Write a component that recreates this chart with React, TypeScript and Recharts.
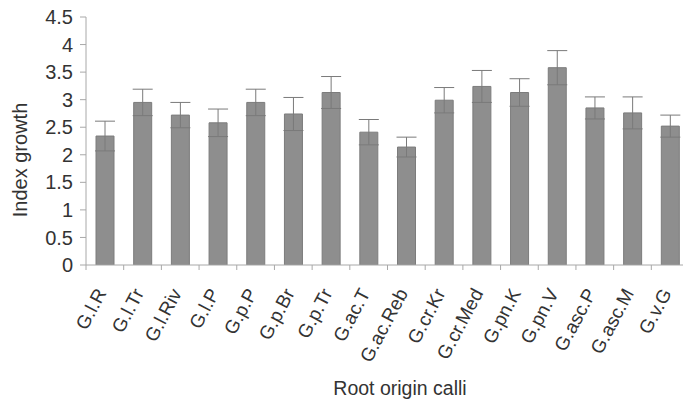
import React from 'react';
import { BarChart, Bar, XAxis, YAxis, ErrorBar, Label } from 'recharts';

const categories = ['G.l.R', 'G.l.Tr', 'G.l.Riv', 'G.l.P', 'G.p.P', 'G.p.Br', 'G.p.Tr', 'G.ac.T', 'G.ac.Reb', 'G.cr.Kr', 'G.cr.Med', 'G.pn.K', 'G.pn.V', 'G.asc.P', 'G.asc.M', 'G.v.G'];
const growthValues = [2.34, 2.95, 2.72, 2.58, 2.95, 2.74, 3.13, 2.41, 2.14, 2.99, 3.24, 3.13, 3.58, 2.85, 2.76, 2.52];
const errorValues = [0.27, 0.24, 0.23, 0.25, 0.24, 0.30, 0.29, 0.23, 0.18, 0.23, 0.29, 0.25, 0.31, 0.20, 0.29, 0.20];
const yTicks = [0, 0.5, 1, 1.5, 2, 2.5, 3, 3.5, 4, 4.5];

const data = categories.map((name, i) => ({ name, value: growthValues[i], err: errorValues[i] }));

const CHART_W = 689;
const CHART_H = 403;
const Y_AXIS_W = 86;
const MARGIN = { top: 17, right: 0, bottom: 0, left: 0 };
const PLOT_BOTTOM = 265;
const BAND = (CHART_W - Y_AXIS_W - MARGIN.right) / categories.length;
const FONT = '"Liberation Sans", Arial, sans-serif';
const AXIS_COLOR = '#a8a8a8';
const TEXT_COLOR = '#333333';

const XTick = (props: any) => {
  const { x, y, payload, index } = props;
  return (
    <g>
      <line x1={x - BAND / 2} x2={x - BAND / 2} y1={y} y2={y + 5} stroke={AXIS_COLOR} />
      {index === categories.length - 1 && (
        <line x1={x + BAND / 2} x2={x + BAND / 2} y1={y} y2={y + 5} stroke={AXIS_COLOR} />
      )}
      <g transform={`translate(${x + 2},${y + 28})`}>
        <text
          x={0}
          y={0}
          textAnchor="end"
          transform="rotate(-62)"
          fontSize={19}
          fontFamily={FONT}
          fill={TEXT_COLOR}
        >
          {payload.value}
        </text>
      </g>
    </g>
  );
};

export default function App() {
  return (
    <div style={{ position: 'absolute', left: 0, top: 0, width: 683, height: 403, overflow: 'hidden', background: '#fff' }}>
      <BarChart width={CHART_W} height={CHART_H} data={data} margin={MARGIN}>
        <XAxis
          dataKey="name"
          interval={0}
          height={CHART_H - PLOT_BOTTOM}
          tick={<XTick />}
          tickLine={false}
          tickSize={0}
          tickMargin={0}
          axisLine={{ stroke: AXIS_COLOR }}
        >
          <Label
            content={() => (
              <text
                x={400}
                y={395}
                textAnchor="middle"
                fontSize={19.5}
                fontFamily={FONT}
                fill={TEXT_COLOR}
              >
                Root origin calli
              </text>
            )}
          />
        </XAxis>
        <YAxis
          width={Y_AXIS_W}
          domain={[0, 4.5]}
          ticks={yTicks}
          interval={0}
          allowDataOverflow
          tickSize={6}
          tickMargin={7}
          axisLine={{ stroke: AXIS_COLOR }}
          tickLine={{ stroke: AXIS_COLOR }}
          tick={{ fontSize: 20, fontFamily: FONT, fill: TEXT_COLOR }}
        >
          <Label
            content={() => (
              <text
                x={27}
                y={160}
                textAnchor="middle"
                transform="rotate(-90, 27, 160)"
                fontSize={20}
                fontFamily={FONT}
                fill={TEXT_COLOR}
              >
                Index growth
              </text>
            )}
          />
        </YAxis>
        <Bar dataKey="value" fill="#8e8e8e" stroke="#7c7c7c" strokeWidth={1} barSize={18} isAnimationActive={false}>
          <ErrorBar dataKey="err" width={10} stroke="#7a7a7a" strokeWidth={1} isAnimationActive={false} />
        </Bar>
      </BarChart>
    </div>
  );
}
